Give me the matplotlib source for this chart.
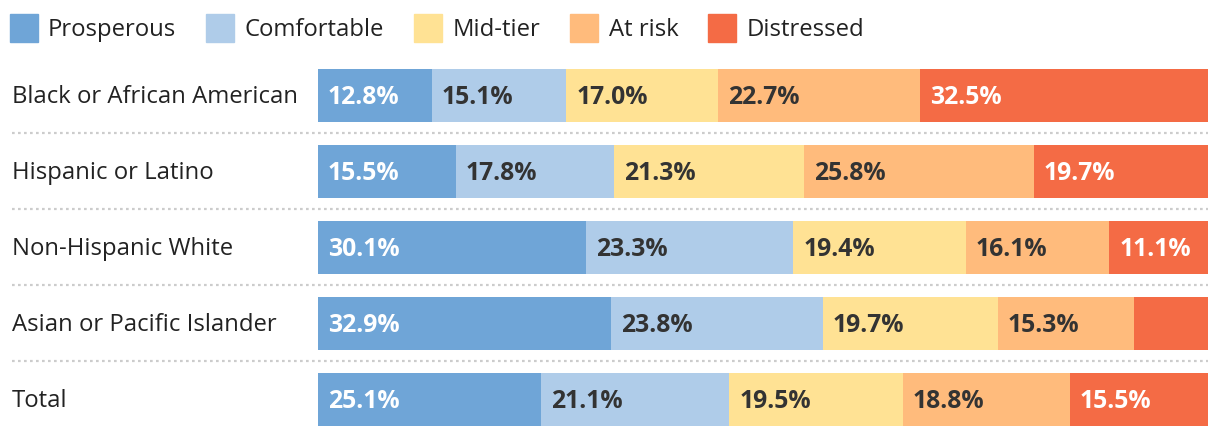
import matplotlib
matplotlib.use("Agg")
import matplotlib.pyplot as plt
from matplotlib.patches import Rectangle
from matplotlib.transforms import blended_transform_factory

categories = ["Black or African American", "Hispanic or Latino", "Non-Hispanic White",
              "Asian or Pacific Islander", "Total"]
series = ["Prosperous", "Comfortable", "Mid-tier", "At risk", "Distressed"]
prosperous = [12.8, 15.5, 30.1, 32.9, 25.1]
comfortable = [15.1, 17.8, 23.3, 23.8, 21.1]
mid_tier = [17.0, 21.3, 19.4, 19.7, 19.5]
at_risk = [22.7, 25.8, 16.1, 15.3, 18.8]
distressed = [32.5, 19.7, 11.1, 8.3, 15.5]
values = [prosperous, comfortable, mid_tier, at_risk, distressed]

colors = ["#6FA5D7", "#AFCCE9", "#FFE294", "#FFBB7C", "#F46B45"]
label_colors = ["white", "#333333", "#333333", "#333333", "white"]

W, H = 1220, 438
fig = plt.figure(figsize=(W / 100, H / 100), dpi=100)
FONT = "Open Sans"

def fx(px):
    return px / W

def fy(py):
    return 1 - py / H

# axes: x 318..1208, y 57..437
ax = fig.add_axes([fx(318), fy(437), fx(1208) - fx(318), (437 - 57) / H])
ax.set_xlim(0, 100)
ax.set_ylim(4.5, -0.5)
ax.axis("off")

bh = 53 / 76
for i, cat in enumerate(categories):
    left = 0.0
    for s in range(len(series)):
        v = values[s][i]
        ax.barh(i, v, left=left, height=bh, color=colors[s], edgecolor="none")
        if v >= 10:
            ax.text(left + 10 / 8.9, i + 0.035, f"{v:.1f}%", ha="left", va="center",
                    color=label_colors[s], fontsize=17.8, fontweight="bold",
                    family=FONT)
        left += v
    fig.text(fx(12), fy(57 + 38 * (2 * i + 1) + 2), cat, ha="left", va="center",
             fontsize=17.2, color="#222222", family=FONT)

# dotted separators
tr = blended_transform_factory(fig.transFigure, ax.transData)
for k in range(len(categories) - 1):
    ax.plot([fx(12), fx(1208)], [k + 0.5, k + 0.5], transform=tr, clip_on=False,
            color="#cccccc", linewidth=1.6, linestyle=(0, (1.2, 1.5)))

# legend
sq_x = [10, 206, 414, 570, 708]
txt_x = [48, 245, 453, 609, 747]
for s, name in enumerate(series):
    fig.patches.append(Rectangle((fx(sq_x[s]), fy(42)), 28 / W, 28 / H,
                                 transform=fig.transFigure, color=colors[s],
                                 edgecolor="none"))
    fig.text(fx(txt_x[s]), fy(30), name, ha="left", va="center", fontsize=17.2,
             color="#222222", family=FONT)

fig.savefig("out.png", dpi=100)
